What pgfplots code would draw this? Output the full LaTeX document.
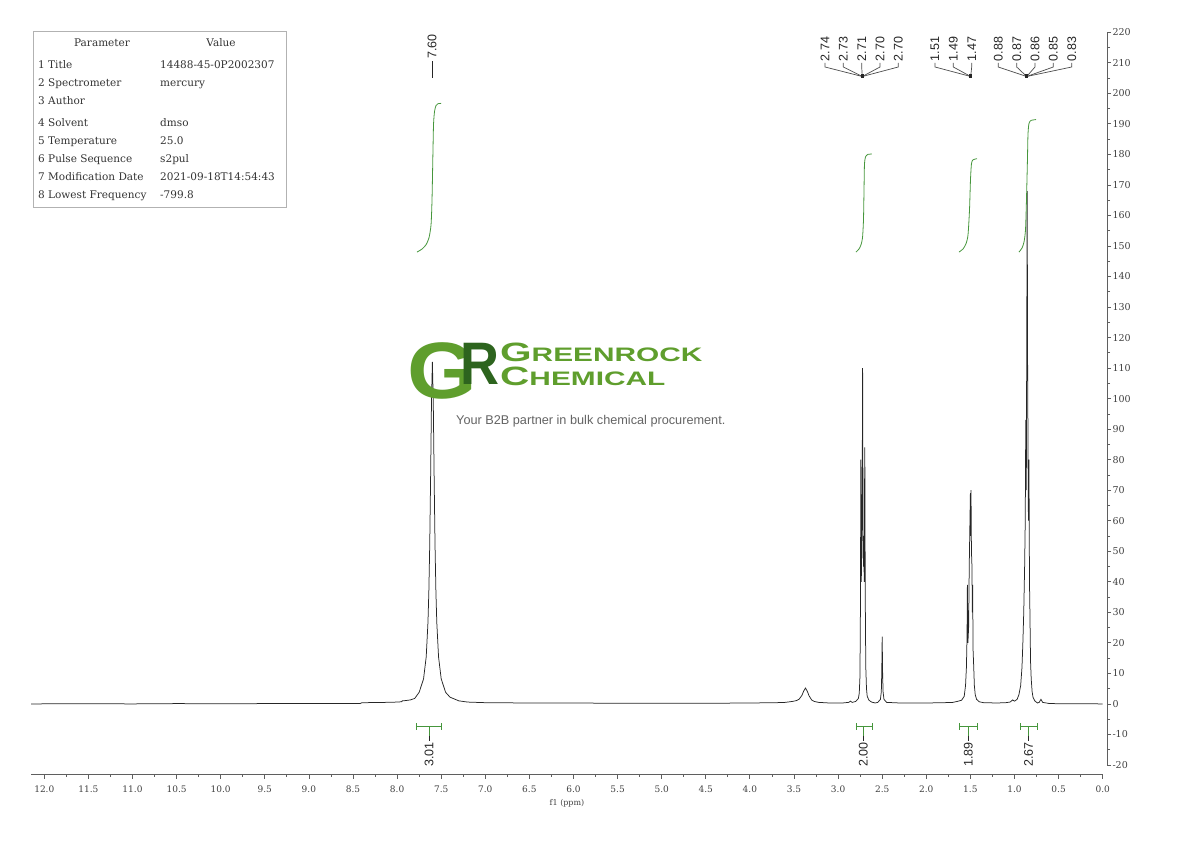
\documentclass[border=0pt]{standalone}
\usepackage{fontspec}
\setmainfont{DejaVu Serif}
\newfontfamily\sansfont{Liberation Sans}
\usepackage{pgfplots}
\pgfplotsset{compat=1.18}

\definecolor{intgreen}{RGB}{70,150,60}
\definecolor{axgray}{RGB}{95,95,95}
\definecolor{logolight}{RGB}{95,158,45}
\definecolor{logodark}{RGB}{45,100,30}
\definecolor{taggray}{RGB}{100,100,100}

\newcommand{\tabfont}{\fontsize{10.5bp}{12bp}\selectfont}
\newcommand{\pkfont}{\sansfont\fontsize{12.5bp}{14bp}\selectfont}

% integration bracket: left, right, centre (ppm), value
\newcommand{\intbracket}[4]{%
  \draw[intgreen, line width=0.8bp] (axis cs:#1,-7.3) -- (axis cs:#2,-7.3);
  \draw[intgreen, line width=0.8bp] (axis cs:#1,-6.3) -- (axis cs:#1,-8.4);
  \draw[intgreen, line width=0.8bp] (axis cs:#2,-6.3) -- (axis cs:#2,-8.4);
  \draw[intgreen, line width=0.8bp] (axis cs:#3,-7.3) -- (axis cs:#3,-10.6);
  \draw[black!85, line width=0.8bp] (axis cs:#3,-10.6) -- (axis cs:#3,-12.2);
  \node[rotate=90, anchor=east, inner sep=0pt, font=\pkfont, text=black!85]
    at (axis cs:#3,-12.5) {#4};
}

\begin{document}
\begin{tikzpicture}
\useasboundingbox (0,0) rectangle (1190bp,841bp);

% spectrum, integrals and x axis
\begin{axis}[
  at={(31bp,67bp)}, anchor=south west,
  scale only axis, width=1071.7bp, height=744bp,
  xmin=0, xmax=12.151, x dir=reverse,
  ymin=-22.96, ymax=220.74,
  axis x line*=bottom, hide y axis,
  xtick={0,0.5,...,12}, minor x tick num=1,
  tick align=outside, major tick length=5bp, minor tick length=3bp,
  x axis line style={draw=axgray, line width=0.9bp, -},
  x tick style={draw=axgray, line width=0.8bp},
  xticklabel style={font=\fontsize{9bp}{10bp}\selectfont, text=black!75, yshift=-3bp,
    /pgf/number format/fixed, /pgf/number format/fixed zerofill,
    /pgf/number format/precision=1, /pgf/number format/assume math mode=true},
  clip=false,
]
\addplot[draw=black!85, line width=0.75bp] coordinates {
(12.15,0.0) (11.5,0.05) (11.0,0.0) (10.5,0.1) (10.0,0.05) (9.5,0.1) (9.0,0.1)
(8.6,0.1) (8.42,0.1) (8.40,0.4) (8.2,0.45) (8.0,0.6) (7.95,0.7) (7.94,1.0)
(7.90,1.1) (7.85,1.3) (7.80,1.8) (7.75,3.8) (7.70,8.2) (7.67,15.4) (7.65,26.7)
(7.64,36.8) (7.63,52.1) (7.62,74.2) (7.61,99.3) (7.60,112) (7.59,99.3)
(7.58,74.2) (7.57,52.1) (7.56,36.8) (7.55,26.7) (7.53,15.4) (7.50,8.2)
(7.45,3.8) (7.40,2.2) (7.30,1.0) (7.20,0.6) (7.0,0.4) (6.5,0.3) (6.0,0.3)
(5.5,0.2) (5.0,0.2) (4.5,0.2) (4.0,0.3) (3.7,0.4) (3.6,0.5) (3.52,0.8)
(3.47,1.1) (3.44,1.6) (3.41,2.8) (3.39,4.2) (3.37,5.2) (3.35,4.2) (3.33,2.7)
(3.30,1.3) (3.27,0.8) (3.22,0.5) (3.1,0.3) (2.95,0.3) (2.88,0.5) (2.86,0.9)
(2.84,0.5) (2.80,0.8) (2.77,1.8) (2.76,3.5) (2.752,9) (2.747,30) (2.742,80)
(2.737,40) (2.732,50) (2.726,75) (2.722,110) (2.717,55) (2.712,45) (2.708,55)
(2.704,40) (2.700,70) (2.697,84) (2.692,35) (2.686,12) (2.678,5) (2.67,2.5)
(2.65,1.2) (2.62,0.6) (2.58,0.3) (2.55,0.5) (2.52,1.5) (2.51,4) (2.505,10)
(2.50,22) (2.495,10) (2.49,4) (2.48,1.5) (2.45,0.5) (2.3,0.3) (2.0,0.3)
(1.8,0.4) (1.7,0.5) (1.65,0.8) (1.60,1.2) (1.57,2.5) (1.555,6) (1.545,12)
(1.538,22) (1.534,39) (1.528,20) (1.52,25) (1.513,45) (1.505,60) (1.500,69)
(1.496,55) (1.493,70) (1.488,50) (1.482,45) (1.478,30) (1.474,39) (1.470,18)
(1.462,12) (1.455,6) (1.445,3) (1.43,1.5) (1.40,0.7) (1.35,0.4) (1.2,0.3)
(1.1,0.4) (1.05,0.6) (1.02,1.3) (1.00,0.9) (0.97,1.5) (0.95,3) (0.93,6)
(0.915,12) (0.905,20) (0.895,30) (0.885,45) (0.878,60) (0.872,93) (0.866,70)
(0.861,120) (0.856,168) (0.851,110) (0.846,80) (0.842,60) (0.836,80)
(0.830,40) (0.825,30) (0.818,14) (0.81,8) (0.80,4) (0.79,2.2) (0.77,1)
(0.74,0.3) (0.72,0.5) (0.70,1.5) (0.68,0.5) (0.6,0.1) (0.3,0.05) (0.0,0.0)
};

% integral curves
\addplot[draw=intgreen, line width=0.8bp, smooth, tension=0.4] coordinates {
(7.774,148.0) (7.717,149.0) (7.672,150.4) (7.638,152.7) (7.615,157.0)
(7.604,165.2) (7.593,181.6) (7.587,189.8) (7.576,194.0) (7.559,196.0)
(7.536,196.6) (7.502,196.7)};
\addplot[draw=intgreen, line width=0.8bp, smooth, tension=0.4] coordinates {
(2.797,148.0) (2.763,149.0) (2.740,150.4) (2.723,152.7) (2.712,158.6)
(2.706,168.4) (2.701,176.6) (2.689,179.2) (2.661,180.0) (2.616,180.1)};
\addplot[draw=intgreen, line width=0.8bp, smooth, tension=0.4] coordinates {
(1.629,148.0) (1.584,149.0) (1.550,150.7) (1.527,153.6) (1.510,161.8)
(1.499,171.6) (1.488,176.9) (1.471,178.2) (1.425,178.6)};
\addplot[draw=intgreen, line width=0.8bp, smooth, tension=0.4] coordinates {
(0.949,148.0) (0.915,149.3) (0.892,151.3) (0.875,155.3) (0.864,165.2)
(0.853,178.3) (0.847,186.5) (0.836,190.1) (0.813,191.1) (0.756,191.4)};

% integration brackets
\intbracket{7.786}{7.502}{7.637}{3.01}
\intbracket{2.797}{2.616}{2.713}{2.00}
\intbracket{1.626}{1.417}{1.524}{1.89}
\intbracket{0.938}{0.741}{0.839}{2.67}
\end{axis}

% right intensity axis
\begin{axis}[
  at={(1107bp,76bp)}, anchor=south east,
  scale only axis, width=50bp, height=732.7bp,
  xmin=0, xmax=1, ymin=-20, ymax=220,
  hide x axis, axis y line*=right,
  ytick={-20,-10,...,220}, minor y tick num=1,
  tick align=outside, major tick length=4bp, minor tick length=3bp,
  y axis line style={draw=axgray, line width=0.9bp, -},
  y tick style={draw=axgray, line width=0.8bp},
  yticklabel style={font=\fontsize{9.5bp}{10bp}\selectfont, text=black!75, xshift=-2bp,
    /pgf/number format/assume math mode=true},
]
\end{axis}

% annotations in page pixels
\begin{scope}[x=1bp, y=-1bp, shift={(0bp,841bp)}]
  % parameter table
  \draw[black!30, line width=0.8bp] (33,31) rectangle (286,207);
  \begin{scope}[every node/.style={inner sep=0pt, font=\tabfont, text=black!80}]
    \node[anchor=base] at (102,47) {Parameter};
    \node[anchor=base] at (221,47) {Value};
    \node[anchor=base west] at (38,69) {1 Title};
    \node[anchor=base west] at (160,69) {14488-45-0P2002307};
    \node[anchor=base west] at (38,87) {2 Spectrometer};
    \node[anchor=base west] at (160,87) {mercury};
    \node[anchor=base west] at (38,105) {3 Author};
    \node[anchor=base west] at (38,127) {4 Solvent};
    \node[anchor=base west] at (160,127) {dmso};
    \node[anchor=base west] at (38,145) {5 Temperature};
    \node[anchor=base west] at (160,145) {25.0};
    \node[anchor=base west] at (38,163) {6 Pulse Sequence};
    \node[anchor=base west] at (160,163) {s2pul};
    \node[anchor=base west] at (38,181) {7 Modification Date};
    \node[anchor=base west] at (160,181) {2021-09-18T14:54:43};
    \node[anchor=base west] at (38,199) {8 Lowest Frequency};
    \node[anchor=base west] at (160,199) {-799.8};
  \end{scope}

  % peak labels
  \draw[black!85, line width=0.8bp] (432,78) -- (432,61);
  \node[rotate=90, anchor=west, inner sep=0pt, font=\pkfont, text=black!85] at (432,59) {7.60};
  \foreach \lx/\px/\lab in {825/862.3/2.74, 843.3/862.3/2.73, 861.7/862.3/2.71,
      880/862.3/2.70, 898.3/862.3/2.70, 935/970.7/1.51, 953.3/970.7/1.49,
      971.7/970.7/1.47, 998.3/1026.7/0.88, 1016.7/1026.7/0.87, 1035/1026.7/0.86,
      1053.3/1026.7/0.85, 1071.7/1026.7/0.83} {
    \node[rotate=90, anchor=west, inner sep=0pt, font=\pkfont, text=black!85] at (\lx,61.5) {\lab};
    \draw[black!70, line width=0.7bp] (\lx,63) -- (\lx,67) -- (\px,76.5);
  }
  \foreach \px in {862.3, 970.7, 1026.7}
    \fill[black!85] (\px-1.5,74.5) rectangle (\px+1.5,78);

  % axis title
  \node[font=\fontsize{8bp}{9bp}\selectfont, text=black!75] at (567,803) {f1 (ppm)};

  % watermark logo
  \node[font=\sansfont\bfseries\fontsize{80bp}{80bp}\selectfont, text=logolight, inner sep=0pt, xscale=1.12] at (442,371) {G};
  \node[font=\sansfont\bfseries\fontsize{60bp}{60bp}\selectfont, text=logodark, inner sep=0pt, xscale=0.9] at (480,364) {R};
  \node[anchor=base west, inner sep=0pt, text=logolight] at (500,362)
    {\scalebox{1.53}[1]{\sansfont\bfseries\fontsize{26.5bp}{27bp}\selectfont G\fontsize{19.5bp}{20bp}\selectfont REENROCK}};
  \node[anchor=base west, inner sep=0pt, text=logolight] at (500,386)
    {\scalebox{1.53}[1]{\sansfont\bfseries\fontsize{26.5bp}{27bp}\selectfont C\fontsize{19.5bp}{20bp}\selectfont HEMICAL}};
  \node[anchor=base west, inner sep=0pt, text=taggray, font=\sansfont\fontsize{12.7bp}{13bp}\selectfont]
    at (456,425) {Your B2B partner in bulk chemical procurement.};
\end{scope}
\end{tikzpicture}
\end{document}
